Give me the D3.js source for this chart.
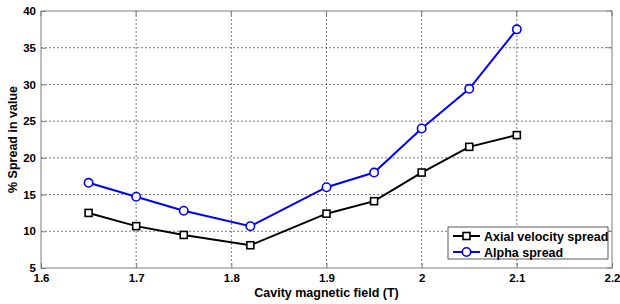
<!DOCTYPE html>
<html><head><meta charset="utf-8">
<script src="https://cdn.jsdelivr.net/npm/d3@7"></script>
<style>body{margin:0;background:#fff;} text{font-family:Arial,"Liberation Sans",sans-serif;font-weight:bold;}</style>
</head><body><svg id="c" width="620" height="304"></svg>
<script>
const xValues = [1.65, 1.7, 1.75, 1.82, 1.9, 1.95, 2.0, 2.05, 2.1];
const axialSpread = [12.5, 10.7, 9.5, 8.1, 12.4, 14.1, 18.0, 21.5, 23.1];
const alphaSpread = [16.6, 14.7, 12.8, 10.7, 16.0, 18.0, 24.0, 29.4, 37.5];
const xTicks = [1.6, 1.7, 1.8, 1.9, 2.0, 2.1, 2.2];
const yTicks = [5, 10, 15, 20, 25, 30, 35, 40];
const seriesNames = ["Axial velocity spread", "Alpha spread"];

const svg = d3.select("#c");
const L = 41, R = 612, T = 11, B = 268;
const x = d3.scaleLinear().domain([1.6, 2.2]).range([L, R]);
const y = d3.scaleLinear().domain([5, 40]).range([B, T]);

// grid
svg.append("g").selectAll("line").data(xTicks.slice(1, -1)).join("line")
  .attr("x1", d => x(d)).attr("x2", d => x(d)).attr("y1", T).attr("y2", B)
  .attr("stroke", "#555").attr("stroke-width", 0.8).attr("stroke-dasharray", "2,2");
svg.append("g").selectAll("line").data(yTicks.slice(1, -1)).join("line")
  .attr("y1", d => y(d)).attr("y2", d => y(d)).attr("x1", L).attr("x2", R)
  .attr("stroke", "#555").attr("stroke-width", 0.8).attr("stroke-dasharray", "2,2");

// frame
svg.append("rect").attr("x", L).attr("y", T).attr("width", R - L).attr("height", B - T)
  .attr("fill", "none").attr("stroke", "#7f7f7f").attr("stroke-width", 1);

// axes
const xAxis = svg.append("g").attr("transform", `translate(0,${B})`)
  .call(d3.axisBottom(x).tickValues(xTicks).tickSize(-5).tickPadding(6).tickFormat(d3.format("")));
const yAxis = svg.append("g").attr("transform", `translate(${L},0)`)
  .call(d3.axisLeft(y).tickValues(yTicks).tickSize(-5).tickPadding(5));
[xAxis, yAxis].forEach(a => {
  a.select(".domain").remove();
  a.selectAll(".tick line").attr("stroke", "#7f7f7f");
  a.selectAll("text").attr("font-size", 11.5).attr("font-family", "Arial, 'Liberation Sans', sans-serif").attr("font-weight", "bold").attr("fill", "#000");
});
// top and right ticks
svg.append("g").selectAll("line").data(xTicks).join("line")
  .attr("x1", d => x(d)).attr("x2", d => x(d)).attr("y1", T).attr("y2", T + 5).attr("stroke", "#7f7f7f");
svg.append("g").selectAll("line").data(yTicks).join("line")
  .attr("y1", d => y(d)).attr("y2", d => y(d)).attr("x1", R).attr("x2", R - 5).attr("stroke", "#7f7f7f");

// lines
const line = d3.line().x((d, i) => x(xValues[i])).y(d => y(d));
const series = [
  {vals: axialSpread, color: "#000", shape: "square"},
  {vals: alphaSpread, color: "#0000ff", shape: "circle"}
];
series.forEach(s => {
  svg.append("path").datum(s.vals).attr("d", line).attr("fill", "none")
    .attr("stroke", s.color).attr("stroke-width", 2);
  const g = svg.append("g");
  if (s.shape === "square") {
    g.selectAll("rect").data(s.vals).join("rect")
      .attr("x", (d, i) => x(xValues[i]) - 3.5).attr("y", d => y(d) - 3.5)
      .attr("width", 7).attr("height", 7).attr("fill", "#fff").attr("stroke", s.color).attr("stroke-width", 1.6);
  } else {
    g.selectAll("circle").data(s.vals).join("circle")
      .attr("cx", (d, i) => x(xValues[i])).attr("cy", d => y(d)).attr("r", 4.2)
      .attr("fill", "#fff").attr("stroke", s.color).attr("stroke-width", 1.6);
  }
});

// axis labels
svg.append("text").attr("x", (L + R) / 2).attr("y", 297).attr("text-anchor", "middle")
  .attr("font-size", 12.5).text("Cavity magnetic field (T)");
svg.append("text").attr("transform", `translate(17,${(T + B) / 2}) rotate(-90)`).attr("text-anchor", "middle")
  .attr("font-size", 12.5).text("% Spread in value");

// legend
const lg = svg.append("g").attr("transform", "translate(448,227)");
lg.append("rect").attr("width", 160).attr("height", 32).attr("fill", "#fff").attr("stroke", "#333").attr("stroke-width", 0.8);
series.forEach((s, i) => {
  const yy = 9 + i * 16;
  lg.append("line").attr("x1", 5).attr("x2", 32).attr("y1", yy).attr("y2", yy).attr("stroke", s.color).attr("stroke-width", 2);
  if (s.shape === "square") {
    lg.append("rect").attr("x", 18.5 - 3.5).attr("y", yy - 3.5).attr("width", 7).attr("height", 7)
      .attr("fill", "#fff").attr("stroke", s.color).attr("stroke-width", 1.6);
  } else {
    lg.append("circle").attr("cx", 18.5).attr("cy", yy).attr("r", 4.2)
      .attr("fill", "#fff").attr("stroke", s.color).attr("stroke-width", 1.6);
  }
  lg.append("text").attr("x", 36).attr("y", yy + 4.5).attr("font-size", 12.5).text(seriesNames[i]);
});
</script></body></html>
